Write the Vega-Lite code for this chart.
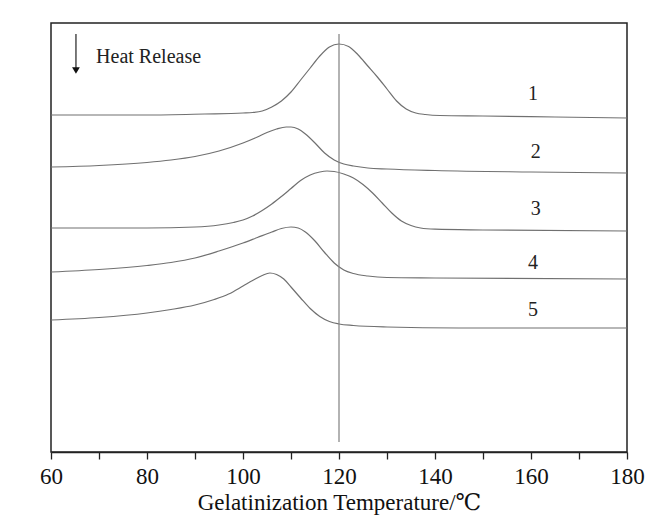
{
  "$schema": "https://vega.github.io/schema/vega-lite/v6.json",
  "width": 576,
  "height": 429,
  "autosize": "none",
  "padding": {"left": 51, "top": 23, "right": 43, "bottom": 65},
  "background": "white",
  "config": {
    "view": {"stroke": "#222", "strokeWidth": 1.5}
  },
  "layer": [
    {
      "data": {"values": [
        {"s": "1", "t": 60, "v": 337}, {"s": "1", "t": 80, "v": 337}, {"s": "1", "t": 92, "v": 338}, {"s": "1", "t": 100, "v": 339}, {"s": "1", "t": 102, "v": 339.5}, {"s": "1", "t": 104, "v": 341}, {"s": "1", "t": 106, "v": 345}, {"s": "1", "t": 108, "v": 351}, {"s": "1", "t": 110, "v": 360}, {"s": "1", "t": 112, "v": 372}, {"s": "1", "t": 114, "v": 384}, {"s": "1", "t": 116, "v": 396}, {"s": "1", "t": 118, "v": 405}, {"s": "1", "t": 120, "v": 408}, {"s": "1", "t": 122, "v": 405.5}, {"s": "1", "t": 124, "v": 397}, {"s": "1", "t": 126, "v": 386}, {"s": "1", "t": 128, "v": 375}, {"s": "1", "t": 130, "v": 363}, {"s": "1", "t": 132, "v": 351}, {"s": "1", "t": 134, "v": 343}, {"s": "1", "t": 136, "v": 339}, {"s": "1", "t": 138, "v": 337.5}, {"s": "1", "t": 141, "v": 336.5}, {"s": "1", "t": 150, "v": 336}, {"s": "1", "t": 165, "v": 335}, {"s": "1", "t": 180, "v": 334},
        {"s": "2", "t": 60, "v": 285}, {"s": "2", "t": 70, "v": 286.5}, {"s": "2", "t": 80, "v": 289.5}, {"s": "2", "t": 85, "v": 292}, {"s": "2", "t": 90, "v": 295.5}, {"s": "2", "t": 95, "v": 301}, {"s": "2", "t": 100, "v": 309}, {"s": "2", "t": 103, "v": 315}, {"s": "2", "t": 105, "v": 319.5}, {"s": "2", "t": 107, "v": 323}, {"s": "2", "t": 109, "v": 325}, {"s": "2", "t": 110, "v": 325}, {"s": "2", "t": 111.5, "v": 323}, {"s": "2", "t": 113, "v": 318}, {"s": "2", "t": 115, "v": 309}, {"s": "2", "t": 117, "v": 299}, {"s": "2", "t": 119, "v": 292}, {"s": "2", "t": 121, "v": 288}, {"s": "2", "t": 123, "v": 286}, {"s": "2", "t": 126, "v": 284}, {"s": "2", "t": 130, "v": 283}, {"s": "2", "t": 140, "v": 281.5}, {"s": "2", "t": 160, "v": 280}, {"s": "2", "t": 180, "v": 279},
        {"s": "3", "t": 60, "v": 224}, {"s": "3", "t": 80, "v": 224}, {"s": "3", "t": 90, "v": 225}, {"s": "3", "t": 95, "v": 227}, {"s": "3", "t": 98, "v": 229.5}, {"s": "3", "t": 100, "v": 232}, {"s": "3", "t": 102, "v": 236}, {"s": "3", "t": 104, "v": 241.5}, {"s": "3", "t": 106, "v": 248}, {"s": "3", "t": 108, "v": 255.5}, {"s": "3", "t": 110, "v": 263.5}, {"s": "3", "t": 112, "v": 271.5}, {"s": "3", "t": 114, "v": 277}, {"s": "3", "t": 116, "v": 280}, {"s": "3", "t": 117.5, "v": 281}, {"s": "3", "t": 119, "v": 280.5}, {"s": "3", "t": 121, "v": 278}, {"s": "3", "t": 123, "v": 274}, {"s": "3", "t": 125, "v": 267.5}, {"s": "3", "t": 127, "v": 259}, {"s": "3", "t": 129, "v": 249}, {"s": "3", "t": 131, "v": 239}, {"s": "3", "t": 133, "v": 231}, {"s": "3", "t": 135, "v": 226.5}, {"s": "3", "t": 137, "v": 224}, {"s": "3", "t": 140, "v": 222.8}, {"s": "3", "t": 150, "v": 222}, {"s": "3", "t": 180, "v": 221},
        {"s": "4", "t": 60, "v": 180}, {"s": "4", "t": 70, "v": 182.5}, {"s": "4", "t": 80, "v": 186.5}, {"s": "4", "t": 85, "v": 189.5}, {"s": "4", "t": 90, "v": 194}, {"s": "4", "t": 95, "v": 201}, {"s": "4", "t": 100, "v": 209}, {"s": "4", "t": 103, "v": 214.5}, {"s": "4", "t": 106, "v": 220}, {"s": "4", "t": 108, "v": 223.5}, {"s": "4", "t": 110, "v": 225}, {"s": "4", "t": 111.5, "v": 224}, {"s": "4", "t": 113, "v": 220}, {"s": "4", "t": 115, "v": 211}, {"s": "4", "t": 117, "v": 199.5}, {"s": "4", "t": 119, "v": 189}, {"s": "4", "t": 121, "v": 182}, {"s": "4", "t": 123, "v": 178.5}, {"s": "4", "t": 126, "v": 176}, {"s": "4", "t": 130, "v": 174.5}, {"s": "4", "t": 140, "v": 174}, {"s": "4", "t": 180, "v": 173},
        {"s": "5", "t": 60, "v": 132}, {"s": "5", "t": 70, "v": 134.5}, {"s": "5", "t": 80, "v": 139}, {"s": "5", "t": 85, "v": 142.5}, {"s": "5", "t": 90, "v": 147}, {"s": "5", "t": 94, "v": 152.5}, {"s": "5", "t": 97, "v": 158}, {"s": "5", "t": 100, "v": 166}, {"s": "5", "t": 102, "v": 171.5}, {"s": "5", "t": 104, "v": 176.5}, {"s": "5", "t": 105.6, "v": 179}, {"s": "5", "t": 107, "v": 177.5}, {"s": "5", "t": 108.5, "v": 173}, {"s": "5", "t": 110, "v": 165}, {"s": "5", "t": 112, "v": 154}, {"s": "5", "t": 114, "v": 143.5}, {"s": "5", "t": 116, "v": 135.5}, {"s": "5", "t": 118, "v": 130.5}, {"s": "5", "t": 120, "v": 128}, {"s": "5", "t": 123, "v": 126.5}, {"s": "5", "t": 130, "v": 125}, {"s": "5", "t": 145, "v": 124}, {"s": "5", "t": 180, "v": 124}
      ]},
      "mark": {"type": "line", "interpolate": "monotone", "color": "#707070", "strokeWidth": 1.2},
      "encoding": {
        "x": {
          "field": "t", "type": "quantitative",
          "scale": {"domain": [60, 180], "nice": false, "zero": false},
          "axis": {
            "values": [60, 70, 80, 90, 100, 110, 120, 130, 140, 150, 160, 170, 180],
            "labelExpr": "datum.value % 20 === 0 ? datum.label : ''",
            "grid": false,
            "tickSize": 7,
            "tickColor": "#222",
            "tickWidth": 1.3,
            "domainColor": "#222",
            "domainWidth": 1.5,
            "labelFont": "Liberation Serif, Times New Roman, DejaVu Serif, serif",
            "labelFontSize": 23,
            "labelColor": "#111",
            "labelPadding": 6,
            "labelFlush": false,
            "labelOverlap": false,
            "title": "Gelatinization Temperature/℃",
            "titleFont": "Liberation Serif, Times New Roman, DejaVu Serif, serif",
            "titleFontSize": 23,
            "titleFontWeight": "normal",
            "titleColor": "#111",
            "titlePadding": 3
          }
        },
        "y": {"field": "v", "type": "quantitative", "scale": {"domain": [0, 429], "nice": false, "zero": false}, "axis": null},
        "detail": {"field": "s", "type": "nominal"}
      }
    },
    {
      "data": {"values": [
        {"kind": "marker", "t": 120, "v1": 418, "v2": 10},
        {"kind": "arrow", "t": 65.2, "v1": 418, "v2": 384}
      ]},
      "mark": {"type": "rule", "strokeWidth": 1.2},
      "encoding": {
        "x": {"field": "t", "type": "quantitative"},
        "y": {"field": "v1", "type": "quantitative"},
        "y2": {"field": "v2"},
        "color": {"field": "kind", "type": "nominal", "scale": {"domain": ["marker", "arrow"], "range": ["#808080", "#222222"]}, "legend": null}
      }
    },
    {
      "data": {"values": [
        {"label": "1", "t": 160.4, "v": 358},
        {"label": "2", "t": 161, "v": 300},
        {"label": "3", "t": 161, "v": 243},
        {"label": "4", "t": 160.4, "v": 189},
        {"label": "5", "t": 160.4, "v": 142}
      ]},
      "mark": {"type": "text", "font": "Liberation Serif, Times New Roman, DejaVu Serif, serif", "fontSize": 20, "color": "#222", "baseline": "middle", "align": "center"},
      "encoding": {
        "x": {"field": "t", "type": "quantitative"},
        "y": {"field": "v", "type": "quantitative"},
        "text": {"field": "label", "type": "nominal"}
      }
    },
    {
      "data": {"values": [{"label": "Heat Release", "t": 69.4, "v": 389}]},
      "mark": {"type": "text", "font": "Liberation Serif, Times New Roman, DejaVu Serif, serif", "fontSize": 20, "color": "#222", "baseline": "alphabetic", "align": "left"},
      "encoding": {
        "x": {"field": "t", "type": "quantitative"},
        "y": {"field": "v", "type": "quantitative"},
        "text": {"field": "label", "type": "nominal"}
      }
    },
    {
      "data": {"values": [{"t": 65.2, "v": 381.5}]},
      "mark": {"type": "point", "shape": "triangle-down", "filled": true, "color": "#111", "size": 60, "opacity": 1},
      "encoding": {
        "x": {"field": "t", "type": "quantitative"},
        "y": {"field": "v", "type": "quantitative"}
      }
    }
  ]
}
